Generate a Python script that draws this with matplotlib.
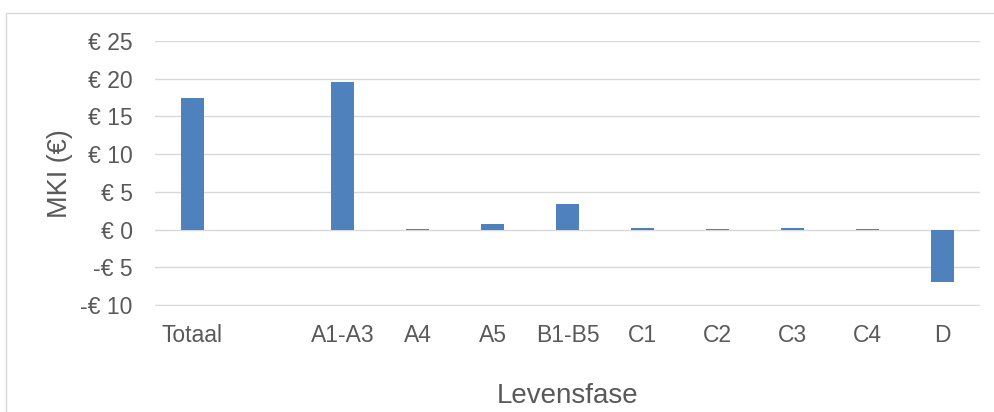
import matplotlib.pyplot as plt
from matplotlib.patches import Rectangle

plt.rcParams['font.family'] = ['Liberation Sans', 'DejaVu Sans']

# MKI per levensfase
fases = ["Totaal", "", "A1-A3", "A4", "A5", "B1-B5", "C1", "C2", "C3", "C4", "D"]
mki = [17.4, 0.0, 19.5, 0.1, 0.8, 3.4, 0.2, 0.05, 0.25, 0.05, -7.0]

y_ticks = [-10, -5, 0, 5, 10, 15, 20, 25]
y_labels = ["-€ 10", "-€ 5", "€ 0", "€ 5", "€ 10", "€ 15", "€ 20", "€ 25"]

grey = "#595959"

W, H = 995, 412
fig = plt.figure(figsize=(W / 100, H / 100), dpi=100)
# plot area in pixels: x 155..980, y 41 (top) .. 305 (bottom)
ax = fig.add_axes([155 / W, 1 - 305.5 / H, 825 / W, 264.5 / H])

x = list(range(len(fases)))
ax.bar(x, mki, width=0.31, color="#4F81BD", linewidth=0, zorder=3)

ax.set_xlim(-0.5, len(fases) - 0.5)
ax.set_ylim(-10.07, 25)
ax.set_yticks(y_ticks)
ax.set_yticklabels(y_labels)
ax.set_xticks(x)
ax.set_xticklabels(fases)

ax.grid(axis="y", color="#D9D9D9", linewidth=1.0, zorder=0)
for s in ax.spines.values():
    s.set_visible(False)
ax.tick_params(axis="both", length=0, colors=grey, labelsize=16.5)
ax.tick_params(axis="y", pad=16)
ax.tick_params(axis="x", pad=13)

ax.set_ylabel("MKI (€)", color=grey, fontsize=19.5, labelpad=5)
ax.set_xlabel("Levensfase", color=grey, fontsize=20, labelpad=26)

# light border round the chart area
fig.patches.append(Rectangle((6.5 / W, -0.1), 1.2, 1 - 12.5 / H + 0.1, transform=fig.transFigure,
                             fill=False, edgecolor="#D9D9D9", linewidth=1.0))

fig.savefig("out.png", dpi=100)
